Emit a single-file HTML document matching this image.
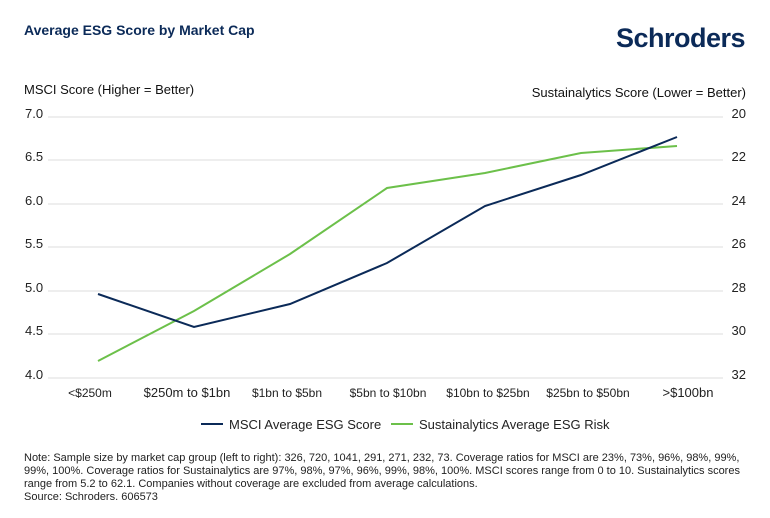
<!DOCTYPE html>
<html><head><style>
body{margin:0;width:770px;height:513px;background:#fff;font-family:"Liberation Sans",sans-serif;overflow:hidden}
</style></head><body>
<svg width="770" height="513" xmlns="http://www.w3.org/2000/svg" font-family="Liberation Sans, sans-serif">
<text x="24" y="35" font-size="14" font-weight="bold" fill="#0b2a58">Average ESG Score by Market Cap</text>
<text x="745" y="47" font-size="27" font-weight="bold" fill="#0b2a58" text-anchor="end" letter-spacing="-0.5">Schroders</text>
<text x="24" y="94" font-size="13" fill="#111">MSCI Score (Higher = Better)</text>
<text x="746" y="97" font-size="13" fill="#111" text-anchor="end">Sustainalytics Score (Lower = Better)</text>
<g stroke="#dcdcdc" stroke-width="1">
<line x1="48" y1="117" x2="723" y2="117"/><line x1="48" y1="160" x2="723" y2="160"/>
<line x1="48" y1="204" x2="723" y2="204"/><line x1="48" y1="247" x2="723" y2="247"/>
<line x1="48" y1="291" x2="723" y2="291"/><line x1="48" y1="334" x2="723" y2="334"/>
<line x1="48" y1="378" x2="723" y2="378"/></g>
<g font-size="13" fill="#222">
<text x="25" y="118">7.0</text><text x="25" y="161">6.5</text><text x="25" y="205">6.0</text>
<text x="25" y="248">5.5</text><text x="25" y="292">5.0</text><text x="25" y="335">4.5</text><text x="25" y="379">4.0</text>
</g>
<g font-size="13" fill="#222" text-anchor="end">
<text x="746" y="118">20</text><text x="746" y="161">22</text><text x="746" y="205">24</text>
<text x="746" y="248">26</text><text x="746" y="292">28</text><text x="746" y="335">30</text><text x="746" y="379">32</text>
</g>
<g font-size="12" fill="#222" text-anchor="middle">
<text x="90" y="397">&lt;$250m</text><text x="187" y="397" font-size="13">$250m to $1bn</text>
<text x="287" y="397">$1bn to $5bn</text><text x="388" y="397">$5bn to $10bn</text>
<text x="488" y="397">$10bn to $25bn</text><text x="588" y="397">$25bn to $50bn</text>
<text x="688" y="397" font-size="13">&gt;$100bn</text>
</g>
<polyline fill="none" stroke="#6cc04a" stroke-width="2" points="98,361 194,311 290,254 387,188 485,173 581,153 677,146"/>
<polyline fill="none" stroke="#0b2a58" stroke-width="2" points="98,294 194,327 290,304 387,263 485,206 581,175 677,137"/>
<line x1="201" y1="424" x2="223" y2="424" stroke="#0b2a58" stroke-width="2"/>
<text x="229" y="429" font-size="13" fill="#222">MSCI Average ESG Score</text>
<line x1="391" y1="424" x2="413" y2="424" stroke="#6cc04a" stroke-width="2"/>
<text x="419" y="429" font-size="13" fill="#222">Sustainalytics Average ESG Risk</text>
<g font-size="11" fill="#222">
<text x="24" y="461">Note: Sample size by market cap group (left to right): 326, 720, 1041, 291, 271, 232, 73. Coverage ratios for MSCI are 23%, 73%, 96%, 98%, 99%,</text>
<text x="24" y="474">99%, 100%. Coverage ratios for Sustainalytics are 97%, 98%, 97%, 96%, 99%, 98%, 100%. MSCI scores range from 0 to 10. Sustainalytics scores</text>
<text x="24" y="487">range from 5.2 to 62.1. Companies without coverage are excluded from average calculations.</text>
<text x="24" y="500">Source: Schroders. 606573</text>
</g>
</svg>
</body></html>
